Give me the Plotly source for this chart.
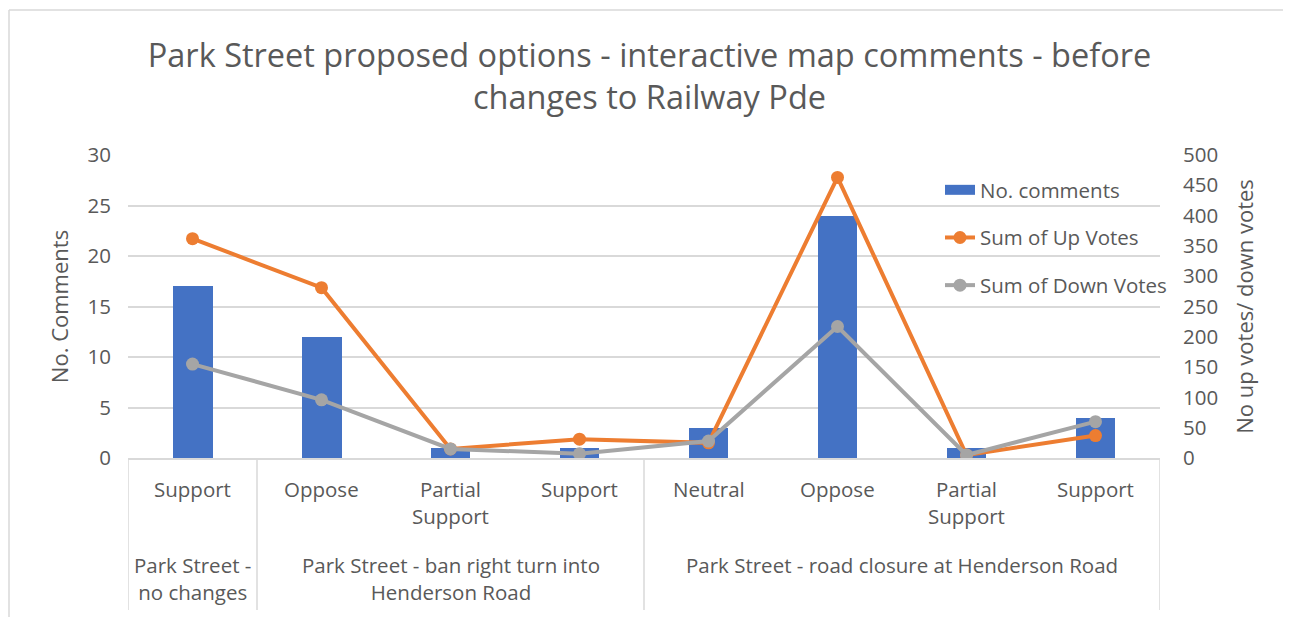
import plotly.graph_objects as go

# ---- data ----
groups = ["Park Street -<br>no changes",
          "Park Street - ban right turn into<br>Henderson Road",
          "Park Street - road closure at Henderson Road"]
group_sizes = [1, 3, 4]
categories = ["Support", "Oppose", "Partial<br>Support", "Support",
              "Neutral", "Oppose", "Partial<br>Support", "Support"]
comments = [17, 12, 1, 1, 3, 24, 1, 4]
up_votes = [362, 281, 15, 31, 25, 463, 5, 37]
down_votes = [155, 96, 15, 7, 28, 217, 5, 60]

title = "Park Street proposed options - interactive map comments - before<br>changes to Railway Pde"

# ---- layout constants (figure coordinates; page body adds 8px offset) ----
OFF = 8
W, H = 1291 - OFF, 617 - OFF
L, R, T, B = 128 - OFF, 1160 - OFF, 155 - OFF, 458 - OFF
font_family = "Open Sans, Noto Sans, sans-serif"
txt = "#595959"
grid = "#D9D9D9"
FS = 20.5

def py(s):  # screenshot pixel y -> paper y
    return (B - (s - OFF)) / (B - T)

def px(s):
    return ((s - OFF) - L) / (R - L)

xs = list(range(len(categories)))

fig = go.Figure()
fig.add_trace(go.Bar(x=xs, y=comments, name="No. comments",
                     marker=dict(color="#4472C4", line=dict(width=0)),
                     width=0.31, yaxis="y", showlegend=False))
# legend entry for the bars (wide rectangle swatch like the original)
fig.add_trace(go.Scatter(x=[None], y=[None], name="No. comments", mode="lines",
                         line=dict(color="#4472C4", width=13), legendgroup="a"))
fig.add_trace(go.Scatter(x=xs, y=up_votes, name="Sum of Up Votes", mode="lines+markers",
                         line=dict(color="#ED7D31", width=4),
                         marker=dict(color="#ED7D31", size=13),
                         yaxis="y2", legendgroup="b"))
fig.add_trace(go.Scatter(x=xs, y=down_votes, name="Sum of Down Votes", mode="lines+markers",
                         line=dict(color="#A5A5A5", width=4),
                         marker=dict(color="#A5A5A5", size=13),
                         yaxis="y2", legendgroup="c"))

annotations = []
for i, c in enumerate(categories):
    annotations.append(dict(x=i, y=py(473), xref="x", yref="paper", text=c,
                            showarrow=False, yanchor="top", xanchor="center",
                            font=dict(size=FS, color=txt, family=font_family)))
start = 0
dividers = [-0.5]
for g, n in zip(groups, group_sizes):
    center = start + (n - 1) / 2
    annotations.append(dict(x=center, y=py(549), xref="x", yref="paper", text=g,
                            showarrow=False, yanchor="top", xanchor="center",
                            font=dict(size=FS, color=txt, family=font_family)))
    start += n
    dividers.append(start - 0.5)

shapes = []
for d in dividers:
    shapes.append(dict(type="line", xref="x", yref="paper", x0=d, x1=d,
                       y0=py(458), y1=py(610), line=dict(color=grid, width=1.5)))
# chart border (left and top)
shapes.append(dict(type="line", xref="paper", yref="paper", x0=px(9), x1=px(9),
                   y0=py(10), y1=py(617), line=dict(color=grid, width=1.5)))
shapes.append(dict(type="line", xref="paper", yref="paper", x0=px(9), x1=px(1291),
                   y0=py(10), y1=py(10), line=dict(color=grid, width=1.5)))

fig.update_layout(
    width=W, height=H,
    margin=dict(l=L, r=W - R, t=T, b=H - B),
    paper_bgcolor="white", plot_bgcolor="white",
    title=dict(text=title, x=0.5, xanchor="center", yref="container",
               y=1 - 59 / H, yanchor="top",
               font=dict(size=32.5, color=txt, family=font_family)),
    font=dict(family=font_family, color=txt),
    bargap=0,
    xaxis=dict(range=[-0.5, len(categories) - 0.5], showticklabels=False,
               showgrid=False, zeroline=False, showline=True, linecolor=grid,
               linewidth=1.5, ticks=""),
    yaxis=dict(range=[0, 30], dtick=5, showgrid=True, gridcolor=grid, gridwidth=1.5,
               zeroline=False, showline=False,
               tickfont=dict(size=FS, color=txt), ticks="", ticklabelstandoff=16,
               title=dict(text="No. Comments", font=dict(size=22, color=txt), standoff=12)),
    yaxis2=dict(range=[0, 500], dtick=50, overlaying="y", side="right",
                showgrid=False, zeroline=False, showline=False,
                tickfont=dict(size=FS, color=txt), ticks="", ticklabelstandoff=22,
                title=dict(text="No up votes/ down votes", font=dict(size=22, color=txt), standoff=20)),
    legend=dict(x=px(940), y=py(170), xanchor="left", yanchor="top",
                bgcolor="rgba(0,0,0,0)", font=dict(size=FS, color=txt),
                tracegroupgap=18),
    annotations=annotations,
    shapes=shapes,
)

fig.write_html("out.html")
